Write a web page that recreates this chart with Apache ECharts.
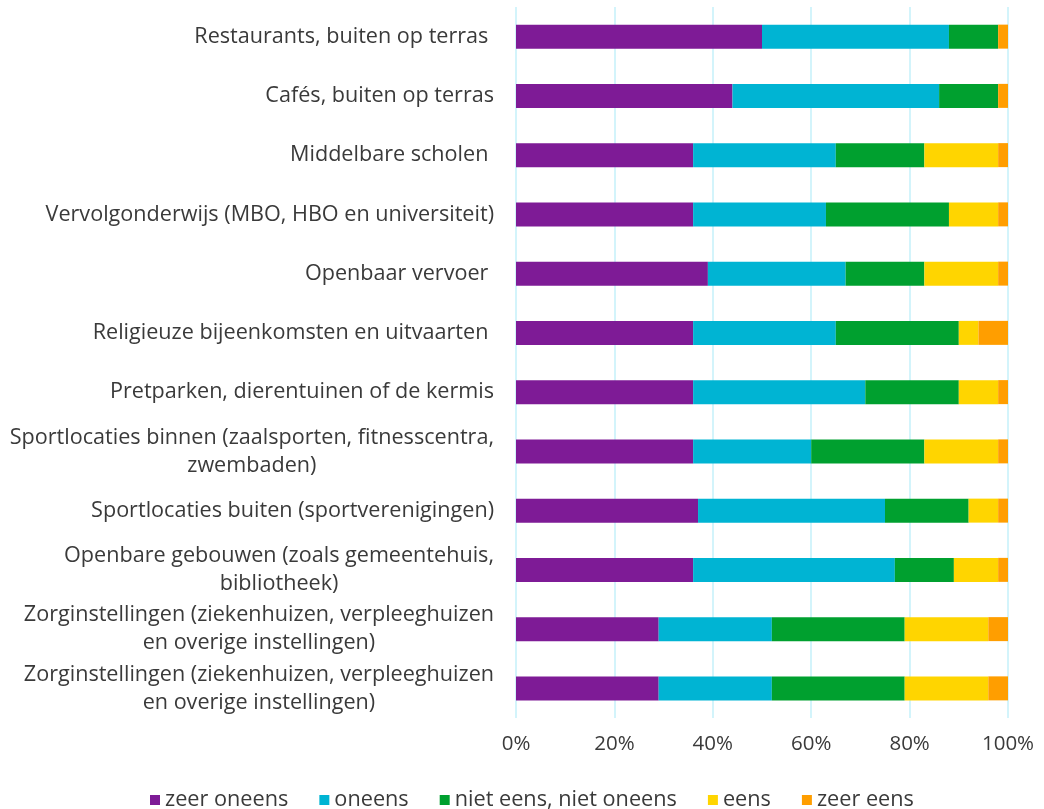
<!DOCTYPE html>
<html>
<head>
<meta charset="utf-8">
<script src="https://cdn.jsdelivr.net/npm/echarts@6/dist/echarts.min.js"></script>
<style>
  html, body { margin: 0; padding: 0; background: #ffffff; }
  #chart { width: 1044px; height: 809px; }
</style>
</head>
<body>
<div id="chart"></div>
<script>
// Locations (top to bottom)
const categories = [
  'Restaurants, buiten op terras ',
  'Cafés, buiten op terras',
  'Middelbare scholen ',
  'Vervolgonderwijs (MBO, HBO en universiteit)',
  'Openbaar vervoer ',
  'Religieuze bijeenkomsten en uitvaarten ',
  'Pretparken, dierentuinen of de kermis',
  'Sportlocaties binnen (zaalsporten, fitnesscentra,\nzwembaden)',
  'Sportlocaties buiten (sportverenigingen)',
  'Openbare gebouwen (zoals gemeentehuis,\nbibliotheek)',
  'Zorginstellingen (ziekenhuizen, verpleeghuizen\nen overige instellingen)',
  'Zorginstellingen (ziekenhuizen, verpleeghuizen\nen overige instellingen)'
];

// Answer shares in percent, one value per location
const zeerOneens   = [50, 44, 36, 36, 39, 36, 36, 36, 37, 36, 29, 29];
const oneens       = [38, 42, 29, 27, 28, 29, 35, 24, 38, 41, 23, 23];
const nietEensNiet = [10, 12, 18, 25, 16, 25, 19, 23, 17, 12, 27, 27];
const eens         = [ 0,  0, 15, 10, 15,  4,  8, 15,  6,  9, 17, 17];
const zeerEens     = [ 2,  2,  2,  2,  2,  6,  2,  2,  2,  2,  4,  4];

const seriesNames = ['zeer oneens', 'oneens', 'niet eens, niet oneens', 'eens', 'zeer eens'];
const seriesData = [zeerOneens, oneens, nietEensNiet, eens, zeerEens];
const seriesColors = ['#7E1B96', '#00B4D3', '#00A02F', '#FFD500', '#FF9E00'];

const xTicks = [0, 20, 40, 60, 80, 100];

const fontFamily = '"Open Sans", "Noto Sans", sans-serif';
const textColor = '#3a3a3a';
const labelSize = 21.6;

const chart = echarts.init(document.getElementById('chart'), null, { renderer: 'canvas' });

chart.setOption({
  backgroundColor: '#ffffff',
  animation: false,
  grid: { left: 516, right: 36, top: 7, bottom: 91, containLabel: false },
  legend: {
    data: seriesNames,
    top: 784,
    left: 145,
    icon: 'rect',
    itemWidth: 10,
    itemHeight: 10,
    itemGap: 31,
    textStyle: { fontFamily: fontFamily, fontSize: 21.7, color: textColor }
  },
  xAxis: {
    type: 'value',
    min: xTicks[0],
    max: xTicks[xTicks.length - 1],
    interval: xTicks[1] - xTicks[0],
    axisLine: { show: false },
    axisTick: { show: false },
    splitLine: { show: true, lineStyle: { color: '#C4F1FA', width: 1.5 } },
    axisLabel: {
      margin: 16,
      formatter: v => v + '%',
      fontFamily: fontFamily,
      fontSize: 20.5,
      color: textColor
    }
  },
  yAxis: {
    type: 'category',
    inverse: true,
    data: categories,
    axisLine: { show: false },
    axisTick: { show: false },
    axisLabel: {
      margin: 22,
      fontFamily: fontFamily,
      fontSize: labelSize,
      color: textColor,
      formatter: v => v.split('\n').map(l => '{c|' + l + '}').join('\n'),
      rich: {
        c: { align: 'center', fontFamily: fontFamily, fontSize: labelSize, color: textColor, lineHeight: 28 }
      }
    }
  },
  series: seriesNames.map((name, i) => ({
    name: name,
    type: 'bar',
    stack: 'total',
    barWidth: 24,
    data: seriesData[i],
    itemStyle: { color: seriesColors[i] }
  }))
});
</script>
</body>
</html>
